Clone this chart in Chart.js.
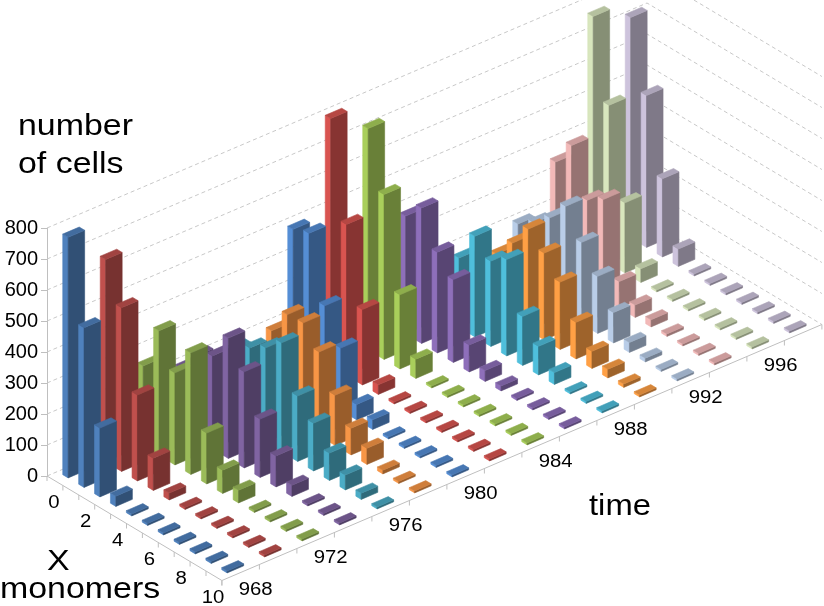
<!DOCTYPE html>
<html>
<head>
<meta charset="utf-8">
<script src="https://cdn.jsdelivr.net/npm/chart.js@4.4.1/dist/chart.umd.min.js"></script>
<style>
html,body{margin:0;padding:0;background:#fff;}
#wrap{width:824px;height:606px;position:relative;}
</style>
</head>
<body>
<div id="wrap"><canvas id="c" width="824" height="606"></canvas></div>
<script>
// ---- data ----
const monomers = ['0','1','2','3','4','5','6','7','8','9','10'];
const timeLabels = ['968','970','972','974','976','978','980','982','984','986','988','990','992','994','996','998'];
const yTicks = [0,100,200,300,400,500,600,700,800];
const s968 = [776, 515, 222, 33, 0, 0, 0, 0, 0, 0, 0];
const s970 = [653, 528, 277, 104, 22, 0, 0, 0, 0, 0, 0];
const s972 = [258, 402, 297, 392, 164, 75, 41, 0, 0, 0, 0];
const s974 = [200, 270, 300, 388, 310, 188, 100, 36, 5, 0, 0];
const s976 = [150, 240, 274, 305, 352, 211, 154, 88, 48, 20, 3];
const s978 = [130, 247, 330, 334, 271, 162, 86, 52, 12, 4, 2];
const s980 = [492, 510, 307, 201, 50, 31, 0, 0, 0, 0, 0];
const s982 = [798, 487, 243, 31, 0, 0, 0, 0, 0, 0, 0];
const s984 = [714, 532, 239, 62, 0, 0, 0, 0, 0, 0, 0];
const s986 = [380, 437, 325, 267, 87, 35, 16, 0, 0, 0, 0];
const s988 = [150, 224, 325, 275, 311, 158, 92, 38, 5, 0, 0];
const s990 = [120, 185, 251, 327, 280, 217, 118, 55, 28, 11, 2];
const s992 = [200, 234, 281, 349, 263, 184, 98, 32, 12, 5, 3];
const s994 = [348, 432, 286, 319, 85, 40, 23, 8, 0, 0, 0];
const s996 = [766, 510, 226, 44, 0, 0, 0, 0, 0, 0, 0];
const s998 = [711, 490, 252, 56, 0, 0, 0, 0, 0, 0, 0];
const series = [s968,s970,s972,s974,s976,s978,s980,s982,s984,s986,s988,s990,s992,s994,s996,s998];

// ---- style ----
const rowColors = ['#4f81bd','#c0504d','#9bbb59','#8064a2','#4bacc6','#f79646',
                   '#558ed5','#d95450','#a9cf5b','#8e6fba','#4fbfdc','#ffa045',
                   '#b9cde8','#f2b9b8','#d8e6bd','#cdc3dc'];
const FONT = "'Liberation Sans', Arial, sans-serif";
const SX = 1.13;            // horizontal text stretch of the original picture
const T_X = 1.0, M_X = 15.9/37.5;     // horizontal projection (xp units)
const T_Ypx = 16, M_Ypx = 9.5;        // vertical projection (pixels)
const HALF_T = 0.22, HALF_M = 0.17;   // bar half depth / half width

function shade(hex, f){
  const n = parseInt(hex.slice(1),16);
  const r = Math.round(((n>>16)&255)*f), g = Math.round(((n>>8)&255)*f), b = Math.round((n&255)*f);
  return 'rgb('+r+','+g+','+b+')';
}

function makeProj(chart){
  const xs = chart.scales.xp, ys = chart.scales.y;
  const ppu = ys.getPixelForValue(0) - ys.getPixelForValue(1);
  return function(t, m, v){
    const u = (t+0.5)*T_X + (m+0.5)*M_X;
    const vv = v + ((t+0.5)*T_Ypx - (m+0.5)*M_Ypx)/ppu;
    return [xs.getPixelForValue(u), ys.getPixelForValue(vv)];
  };
}

function poly(ctx, pts, fill){
  ctx.beginPath();
  ctx.moveTo(pts[0][0], pts[0][1]);
  for (let i=1;i<pts.length;i++) ctx.lineTo(pts[i][0], pts[i][1]);
  ctx.closePath();
  ctx.fillStyle = fill; ctx.fill();
  ctx.strokeStyle = fill; ctx.lineWidth = 0.6; ctx.stroke();
}

function txt(ctx, s, x, y, size, align, base){
  ctx.save();
  ctx.font = size + 'px ' + FONT;
  ctx.fillStyle = '#000';
  ctx.textAlign = align; ctx.textBaseline = base;
  ctx.translate(x, y); ctx.scale(SX, 1);
  ctx.fillText(s, 0, 0);
  ctx.restore();
}

const bars3d = {
  id: 'bars3d',
  beforeDatasetsDraw(chart){
    const ctx = chart.ctx;
    const P = makeProj(chart);
    const ys = chart.scales.y;
    const ppu = ys.getPixelForValue(0) - ys.getPixelForValue(1);
    const nT = chart.data.datasets.length, nM = chart.data.labels.length;
    ctx.save();
    // walls gridlines
    ctx.setLineDash([4,3]);
    ctx.strokeStyle = '#c8c8c8'; ctx.lineWidth = 1;
    yTicks.forEach(v => {
      const a = P(-0.5,-0.5,v), b = P(nT-0.5,-0.5,v), c = P(nT-0.5,nM-0.5,v);
      ctx.beginPath(); ctx.moveTo(a[0],a[1]); ctx.lineTo(b[0],b[1]); ctx.lineTo(c[0],c[1]); ctx.stroke();
    });
    ctx.setLineDash([]);
    // floor axes
    ctx.strokeStyle = '#bfbfbf'; ctx.lineWidth = 1;
    let a = P(-0.5,-0.5,0), b = P(-0.5,nM-0.5,0), c = P(nT-0.5,nM-0.5,0);
    ctx.beginPath(); ctx.moveTo(a[0],a[1]); ctx.lineTo(b[0],b[1]); ctx.lineTo(c[0],c[1]); ctx.stroke();
    for (let k=0;k<=nM;k++){ const p = P(-0.5,k-0.5,0); ctx.beginPath(); ctx.moveTo(p[0],p[1]); ctx.lineTo(p[0],p[1]+5); ctx.stroke(); }
    for (let k=0;k<=nT;k++){ const p = P(k-0.5,nM-0.5,0); ctx.beginPath(); ctx.moveTo(p[0],p[1]); ctx.lineTo(p[0],p[1]+5); ctx.stroke(); }
    // bars, back to front
    for (let t=nT-1;t>=0;t--){
      const ds = chart.data.datasets[t];
      const base = ds.backgroundColor;
      const cLight = base, cDark = shade(base,0.62), cTop = shade(base,0.84);
      for (let m=0;m<nM;m++){
        let v = ds.data[m];
        const minV = 2/ppu;
        if (v < minV) v = minV;
        const t0=t-HALF_T, t1=t+HALF_T, m0=m-HALF_M, m1=m+HALF_M;
        poly(ctx,[P(t0,m0,0),P(t0,m1,0),P(t0,m1,v),P(t0,m0,v)], cLight);
        poly(ctx,[P(t0,m1,0),P(t1,m1,0),P(t1,m1,v),P(t0,m1,v)], cDark);
        poly(ctx,[P(t0,m0,v),P(t0,m1,v),P(t1,m1,v),P(t1,m0,v)], cTop);
      }
    }
    // axis labels
    for (let m=0;m<nM;m+=2){
      const p = P(-0.5,m,0);
      txt(ctx, chart.data.labels[m], p[0]-1, p[1]+22, 18, 'center', 'middle');
    }
    for (let t=0;t<nT;t+=2){
      const p = P(t,nM-0.5,0);
      txt(ctx, chart.data.datasets[t].label, p[0]+15, p[1]+17.5, 18, 'center', 'middle');
    }
    // titles
    txt(ctx, 'number', 18, 135, 30, 'left', 'alphabetic');
    txt(ctx, 'of cells', 18, 173, 30, 'left', 'alphabetic');
    txt(ctx, 'X', 47, 570, 30, 'left', 'alphabetic');
    txt(ctx, 'monomers', 0, 598, 30, 'left', 'alphabetic');
    txt(ctx, 'time', 589, 515, 29, 'left', 'alphabetic');
    ctx.restore();
    return false;
  }
};

new Chart(document.getElementById('c'), {
  type: 'bar',
  data: {
    labels: monomers,
    datasets: series.map((d,i) => ({ label: timeLabels[i], data: d, backgroundColor: rowColors[i] }))
  },
  options: {
    responsive: false,
    animation: false,
    events: [],
    layout: { padding: { top: 228, bottom: 130, left: 0, right: 0 } },
    plugins: { legend: { display: false }, tooltip: { enabled: false }, title: { display: false } },
    scales: {
      x: { type: 'category', display: false },
      xp: { type: 'linear', axis: 'x', position: 'bottom', display: false, offset: false,
            grid: { offset: false }, min: 0, max: (824-47)/37.5 },
      y: {
        type: 'linear', min: 0, max: 800, offset: false,
        ticks: { stepSize: 100, color: '#000', padding: 3, font: { family: FONT, size: 20 } },
        grid: { drawOnChartArea: false, drawTicks: true, tickLength: 6, color: '#bfbfbf' },
        border: { display: true, color: '#bfbfbf' },
        afterFit(scale){ scale.width = 47; }
      }
    }
  },
  plugins: [bars3d]
});
</script>
</body>
</html>
